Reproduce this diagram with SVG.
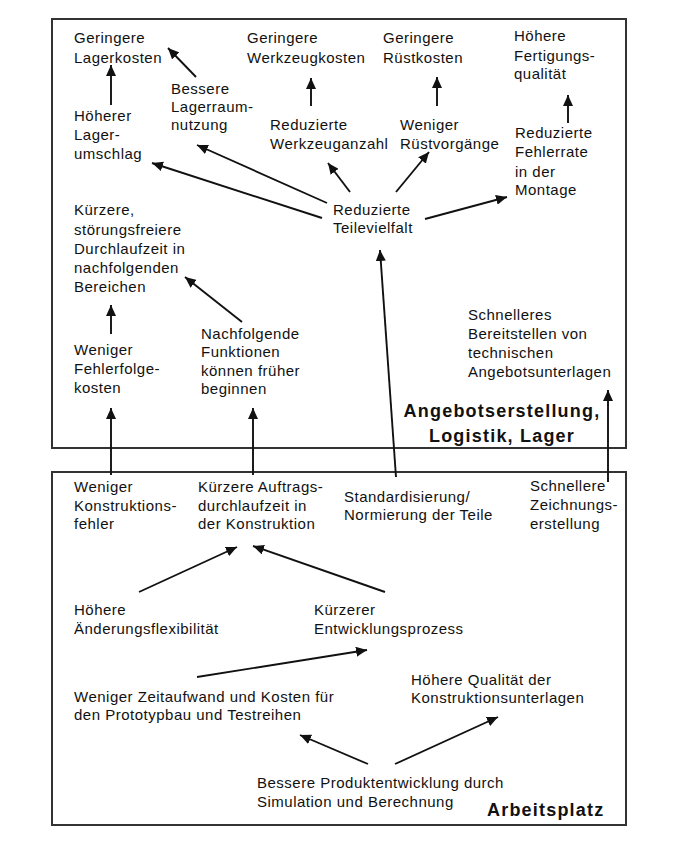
<svg xmlns="http://www.w3.org/2000/svg" width="684" height="845" viewBox="0 0 684 845">
<defs>
<marker id="ah" viewBox="0 0 11 10" refX="11" refY="5" markerWidth="11" markerHeight="10" markerUnits="userSpaceOnUse" orient="auto">
<path d="M0,0 L11,5 L0,10 z" fill="#111"/>
</marker>
<style>
.t{font-family:"Liberation Sans",Arial,sans-serif;font-size:15px;letter-spacing:0.5px;fill:#111}
.b{font-family:"Liberation Sans",Arial,sans-serif;font-size:18px;font-weight:bold;letter-spacing:1.2px;fill:#111}
.frame{fill:#fff;stroke:#333;stroke-width:2}
.c line{stroke:#111;stroke-width:1.9;marker-end:url(#ah)}
</style>
</defs>
<rect width="684" height="845" fill="#fff"/>
<g id="frame-top"><rect class="frame" x="52" y="19" width="574" height="429"/></g>
<g id="frame-bottom"><rect class="frame" x="52" y="472" width="574" height="353"/></g>

<g id="n-lagerkosten"><text class="t" x="74" y="43">Geringere</text><text class="t" x="74" y="63">Lagerkosten</text></g>
<g id="n-lagerraum"><text class="t" x="171" y="94">Bessere</text><text class="t" x="171" y="112">Lagerraum-</text><text class="t" x="171" y="130">nutzung</text></g>
<g id="n-lagerumschlag"><text class="t" x="74" y="121">Höherer</text><text class="t" x="74" y="140">Lager-</text><text class="t" x="74" y="159">umschlag</text></g>
<g id="n-werkzeugkosten"><text class="t" x="247" y="43">Geringere</text><text class="t" x="247" y="63">Werkzeugkosten</text></g>
<g id="n-werkzeuganzahl"><text class="t" x="270" y="130">Reduzierte</text><text class="t" x="270" y="149">Werkzeuganzahl</text></g>
<g id="n-ruestkosten"><text class="t" x="383" y="43">Geringere</text><text class="t" x="383" y="63">Rüstkosten</text></g>
<g id="n-ruestvorgaenge"><text class="t" x="400" y="130">Weniger</text><text class="t" x="400" y="149">Rüstvorgänge</text></g>
<g id="n-fertigungsqualitaet"><text class="t" x="514" y="41">Höhere</text><text class="t" x="514" y="61">Fertigungs-</text><text class="t" x="514" y="79">qualität</text></g>
<g id="n-fehlerrate"><text class="t" x="515" y="138">Reduzierte</text><text class="t" x="515" y="157">Fehlerrate</text><text class="t" x="515" y="177">in der</text><text class="t" x="515" y="195">Montage</text></g>
<g id="n-teilevielfalt"><text class="t" x="333" y="215">Reduzierte</text><text class="t" x="333" y="233">Teilevielfalt</text></g>
<g id="n-durchlaufzeit"><text class="t" x="74" y="215">Kürzere,</text><text class="t" x="74" y="235">störungsfreiere</text><text class="t" x="74" y="254">Durchlaufzeit in</text><text class="t" x="74" y="273">nachfolgenden</text><text class="t" x="74" y="292">Bereichen</text></g>
<g id="n-fehlerfolgekosten"><text class="t" x="74" y="355">Weniger</text><text class="t" x="74" y="374">Fehlerfolge-</text><text class="t" x="74" y="393">kosten</text></g>
<g id="n-nachfolgende"><text class="t" x="201" y="339">Nachfolgende</text><text class="t" x="201" y="357">Funktionen</text><text class="t" x="201" y="376">können früher</text><text class="t" x="201" y="394">beginnen</text></g>
<g id="n-angebotsunterlagen"><text class="t" x="468" y="320">Schnelleres</text><text class="t" x="468" y="339">Bereitstellen von</text><text class="t" x="468" y="358">technischen</text><text class="t" x="468" y="377">Angebotsunterlagen</text></g>
<g id="label-top"><text class="b" x="502" y="417" text-anchor="middle">Angebotserstellung,</text><text class="b" x="502" y="442" text-anchor="middle">Logistik, Lager</text></g>

<g id="n-konstruktionsfehler"><text class="t" x="74" y="492">Weniger</text><text class="t" x="74" y="511">Konstruktions-</text><text class="t" x="74" y="529">fehler</text></g>
<g id="n-auftragsdurchlauf"><text class="t" x="198" y="492">Kürzere Auftrags-</text><text class="t" x="198" y="511">durchlaufzeit in</text><text class="t" x="198" y="529">der Konstruktion</text></g>
<g id="n-standardisierung"><text class="t" x="344" y="502">Standardisierung/</text><text class="t" x="344" y="520">Normierung der Teile</text></g>
<g id="n-zeichnungserstellung"><text class="t" x="530" y="491">Schnellere</text><text class="t" x="530" y="510">Zeichnungs-</text><text class="t" x="530" y="529">erstellung</text></g>
<g id="n-aenderungsflex"><text class="t" x="74" y="615">Höhere</text><text class="t" x="74" y="634">Änderungsflexibilität</text></g>
<g id="n-entwicklungsprozess"><text class="t" x="314" y="615">Kürzerer</text><text class="t" x="314" y="634">Entwicklungsprozess</text></g>
<g id="n-prototypbau"><text class="t" x="74" y="702">Weniger Zeitaufwand und Kosten für</text><text class="t" x="74" y="720">den Prototypbau und Testreihen</text></g>
<g id="n-qualitaet"><text class="t" x="411" y="685">Höhere Qualität der</text><text class="t" x="411" y="703">Konstruktionsunterlagen</text></g>
<g id="n-simulation"><text class="t" x="257" y="788">Bessere Produktentwicklung durch</text><text class="t" x="257" y="807">Simulation und Berechnung</text></g>
<g id="label-bottom"><text class="b" x="487" y="816">Arbeitsplatz</text></g>

<g id="connectors" class="c">
<line x1="111" y1="105" x2="111" y2="65"/>
<line x1="196" y1="77" x2="168" y2="48"/>
<line x1="327" y1="203" x2="197" y2="145"/>
<line x1="322" y1="218" x2="152" y2="163"/>
<line x1="311" y1="106" x2="311" y2="78"/>
<line x1="350" y1="192" x2="328" y2="163"/>
<line x1="437" y1="106" x2="437" y2="77"/>
<line x1="396" y1="192" x2="429" y2="152"/>
<line x1="425" y1="219" x2="507" y2="197"/>
<line x1="568" y1="123" x2="568" y2="95"/>
<line x1="111" y1="334" x2="111" y2="305"/>
<line x1="242" y1="322" x2="185" y2="277"/>
<line x1="111" y1="475" x2="111" y2="408"/>
<line x1="253" y1="475" x2="253" y2="408"/>
<line x1="396" y1="477" x2="380" y2="250"/>
<line x1="608" y1="482" x2="608" y2="390"/>
<line x1="139" y1="592" x2="237" y2="547"/>
<line x1="385" y1="592" x2="253" y2="546"/>
<line x1="197" y1="677" x2="367" y2="650"/>
<line x1="368" y1="764" x2="300" y2="735"/>
<line x1="395" y1="764" x2="498" y2="717"/>
</g>
</svg>
